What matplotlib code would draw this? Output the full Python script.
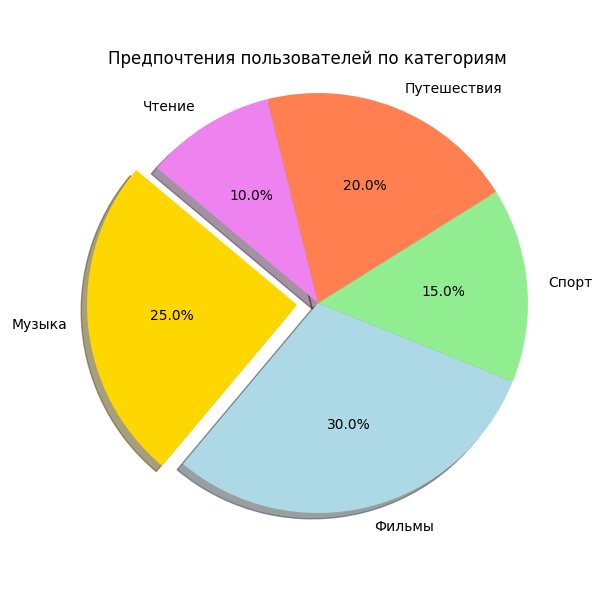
import matplotlib
matplotlib.use('Agg')
from matplotlib import pyplot as plt

categories = ['Музыка', 'Фильмы', 'Спорт', 'Путешествия', 'Чтение']
shares = [25, 30, 15, 20, 10]
colors = ['gold', 'lightblue', 'lightgreen', 'coral', 'violet']
explode = [0.1, 0, 0, 0, 0]


def main():
    plt.figure(figsize=(6, 6))
    plt.pie(shares, labels=categories, colors=colors, explode=explode,
            autopct='%1.1f%%', shadow=True, startangle=140)
    plt.title('Предпочтения пользователей по категориям')
    plt.axis('equal')
    plt.savefig('out.png', dpi=100)
    plt.close()


main()
